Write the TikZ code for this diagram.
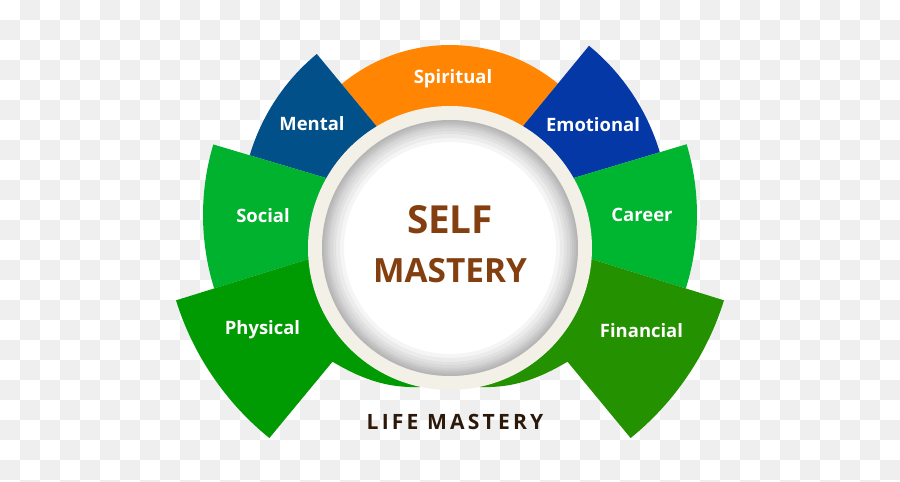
\documentclass[tikz,border=0pt]{standalone}
\usepackage{fontspec}
\setmainfont{Open Sans}
\usepackage{tikz}

\definecolor{chk}{HTML}{EFEFEF}
\definecolor{spiritc}{HTML}{FF8503}
\definecolor{mentalc}{HTML}{02508A}
\definecolor{emotc}{HTML}{0338A6}
\definecolor{socialc}{HTML}{00B22E}
\definecolor{careerc}{HTML}{00B52F}
\definecolor{physc}{HTML}{009A02}
\definecolor{finc}{HTML}{239100}
\definecolor{ringc}{HTML}{F3F0E7}
\definecolor{selfc}{HTML}{843F10}
\definecolor{lifec}{HTML}{2D190A}

\tikzset{
  lbl/.style={text=white, font=\bfseries\fontsize{10.5}{12}\selectfont},
  big/.style={text=selfc, font=\bfseries\fontsize{22}{24}\selectfont},
}

\begin{document}
\begin{tikzpicture}[x=0.02cm, y=0.02cm]
 \useasboundingbox (-450,-266) rectangle (450,215);

	% Fond
 \begin{scope}
 \clip (-450,-266) rectangle (450,215);
 \fill[white] (-450,-266) rectangle (450,215);
 \foreach \i in {0,...,44}{\foreach \j in {0,...,24}{
   \ifodd\numexpr\i+\j\relax \fill[chk] (20*\i-450,195-20*\j) rectangle ++(20,20);\fi}}
 \end{scope}

	% Secteurs
 \fill[spiritc] (0,0) -- (50.6:170) arc[start angle=50.6, end angle=129.6, radius=170] -- cycle;
 \fill[mentalc] (0,0) -- (129.6:209) arc[start angle=129.6, end angle=163.4, radius=209] -- cycle;
 \fill[emotc] (0,0) -- (16.65:219) arc[start angle=16.65, end angle=50.6, radius=219] -- cycle;
 \fill[socialc] (0,0) -- (163.4:247) arc[start angle=163.4, end angle=197.3, radius=247] -- cycle;
 \fill[careerc] (0,0) -- (-17.3:247) arc[start angle=-17.3, end angle=16.65, radius=247] -- cycle;
 \fill[physc] (0,0) -- (197.3:287) arc[start angle=197.3, end angle=231, radius=287]
   -- (-117.5,-146.7) .. controls (-85,-166) and (-60,-173) .. (-30,-172) -- (0,-33) -- cycle;
 \fill[finc] (0,0) -- (-17.3:287) arc[start angle=-17.3, end angle=-51, radius=287]
   -- (117.5,-146.7) .. controls (85,-166) and (60,-173) .. (30,-172) -- (0,-33) -- cycle;

	% Cercle
 \fill[ringc] (0,-33) circle[radius=142];
 \fill[white] (0,-33) circle[radius=128];
 \foreach \r in {106,110,114,117,120,122,124,126}
   \fill[black, opacity=0.04, even odd rule] (0,-33) circle[radius=128] (0,-33) circle[radius=\r];

	% Textes
 \node[lbl] (spirit) at (3,136) {Spiritual};
 \node[lbl] (mental) at (-138,91) {Mental};
 \node[lbl] (emot) at (143,90) {Emotional};
 \node[lbl] (social) at (-187,-1) {Social};
 \node[lbl] (career) at (192,0) {Career};
 \node[lbl] (phys) at (-187.5,-115) {Physical};
 \node[lbl] (fin) at (191.5,-116) {Financial};

 \node[big] (self) at (0,-5) {SELF};
 \node[big, font=\bfseries\fontsize{19}{21}\selectfont] (mastery) at (0,-56) {MASTERY};
 \node[text=lifec, font=\bfseries\fontsize{12}{14}\selectfont\addfontfeatures{LetterSpace=15}] (life) at (5,-206.5) {LIFE MASTERY};
\end{tikzpicture}
\end{document}
